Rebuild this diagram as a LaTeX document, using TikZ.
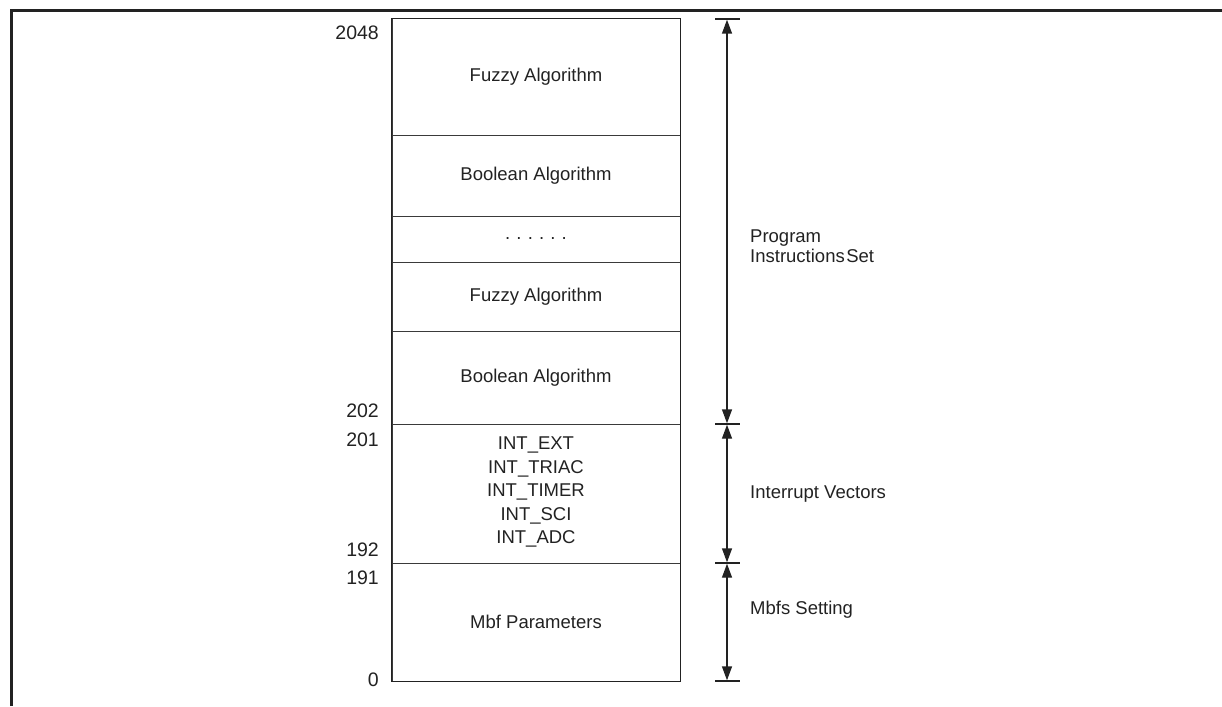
\documentclass[tikz,border=0pt]{standalone}
\usepackage{fontspec}
\setmainfont{Liberation Sans}
\usetikzlibrary{arrows.meta}
\definecolor{ink}{HTML}{222222}
\definecolor{rule}{HTML}{3a3a3a}
\tikzset{
  seg/.style={draw=rule, line width=1pt, minimum width=288pt, inner sep=0pt, text=ink, font=\fontsize{18.5}{24}\selectfont, align=center},
  addr/.style={anchor=east, text=ink, inner sep=0pt, font=\fontsize{19.5}{22}\selectfont},
  lbl/.style={anchor=west, text=ink, inner sep=0pt, align=left, font=\fontsize{18.5}{20}\selectfont},
  dim/.style={draw=ink, line width=1.4pt, {Triangle[width=10pt,length=14pt]}-{Triangle[width=10pt,length=14pt]}, shorten <=0.7pt, shorten >=0.7pt},
  tick/.style={draw=ink, line width=1.3pt},
  frame/.style={draw=ink, line width=3pt}
}
\begin{document}
\begin{tikzpicture}[x=1pt,y=-1pt]
\useasboundingbox (0,0) rectangle (1222,706);
% frame
\draw[frame] (11,706) -- (11,11) -- (1222,11);
% segments
\node[seg, minimum height=116pt] (f1) at (536,77) {Fuzzy Algorithm};
\node[seg, minimum height=81pt] (b1) at (536,175.5) {Boolean Algorithm};
\node[seg, minimum height=46pt] (dd) at (536,239) {.\,\,.\,\,.\,\,.\,\,.\,\,.};
\node[seg, minimum height=69pt] (f2) at (536,296.5) {Fuzzy Algorithm};
\node[seg, minimum height=93pt] (b2) at (536,377.5) {Boolean Algorithm};
\node[seg, minimum height=139pt] (iv) at (536,493.5) {};
\node[text=ink, align=center, inner sep=0pt, font=\fontsize{18.5}{23.5}\selectfont] (ivt) at (536,492) {INT\_EXT\\INT\_TRIAC\\INT\_TIMER\\INT\_SCI\\INT\_ADC};
\node[seg, minimum height=118pt] (mp) at (536,622) {Mbf Parameters};
% outer outline of the memory column
\draw[draw=ink, line width=1.3pt] (f1.north west) rectangle (mp.south east);
% addresses
\node[addr] (a2048) at (379,33) {2048};
\node[addr] (a202) at (379,411) {202};
\node[addr] (a201) at (379,440) {201};
\node[addr] (a192) at (379,550) {192};
\node[addr] (a191) at (379,578) {191};
\node[addr] (a0) at (379,680) {0};
% dimension ticks
\coordinate (t0) at (727,19);
\coordinate (t1) at (727,424);
\coordinate (t2) at (727,563);
\coordinate (t3) at (727,681);
\foreach \t in {t0,t1,t2,t3} \draw[tick] ([xshift=-12pt]\t) -- ([xshift=13pt]\t);
\draw[dim] (t0) -- (t1);
\draw[dim] (t1) -- (t2);
\draw[dim] (t2) -- (t3);
% labels
\node[lbl] (lp) at (750,246) {Program\\Instructions\hspace{0.08em}Set};
\node[lbl] (li) at (750,494) {Interrupt Vectors};
\node[lbl] (lm) at (750,610) {Mbfs Setting};
\end{tikzpicture}
\end{document}
